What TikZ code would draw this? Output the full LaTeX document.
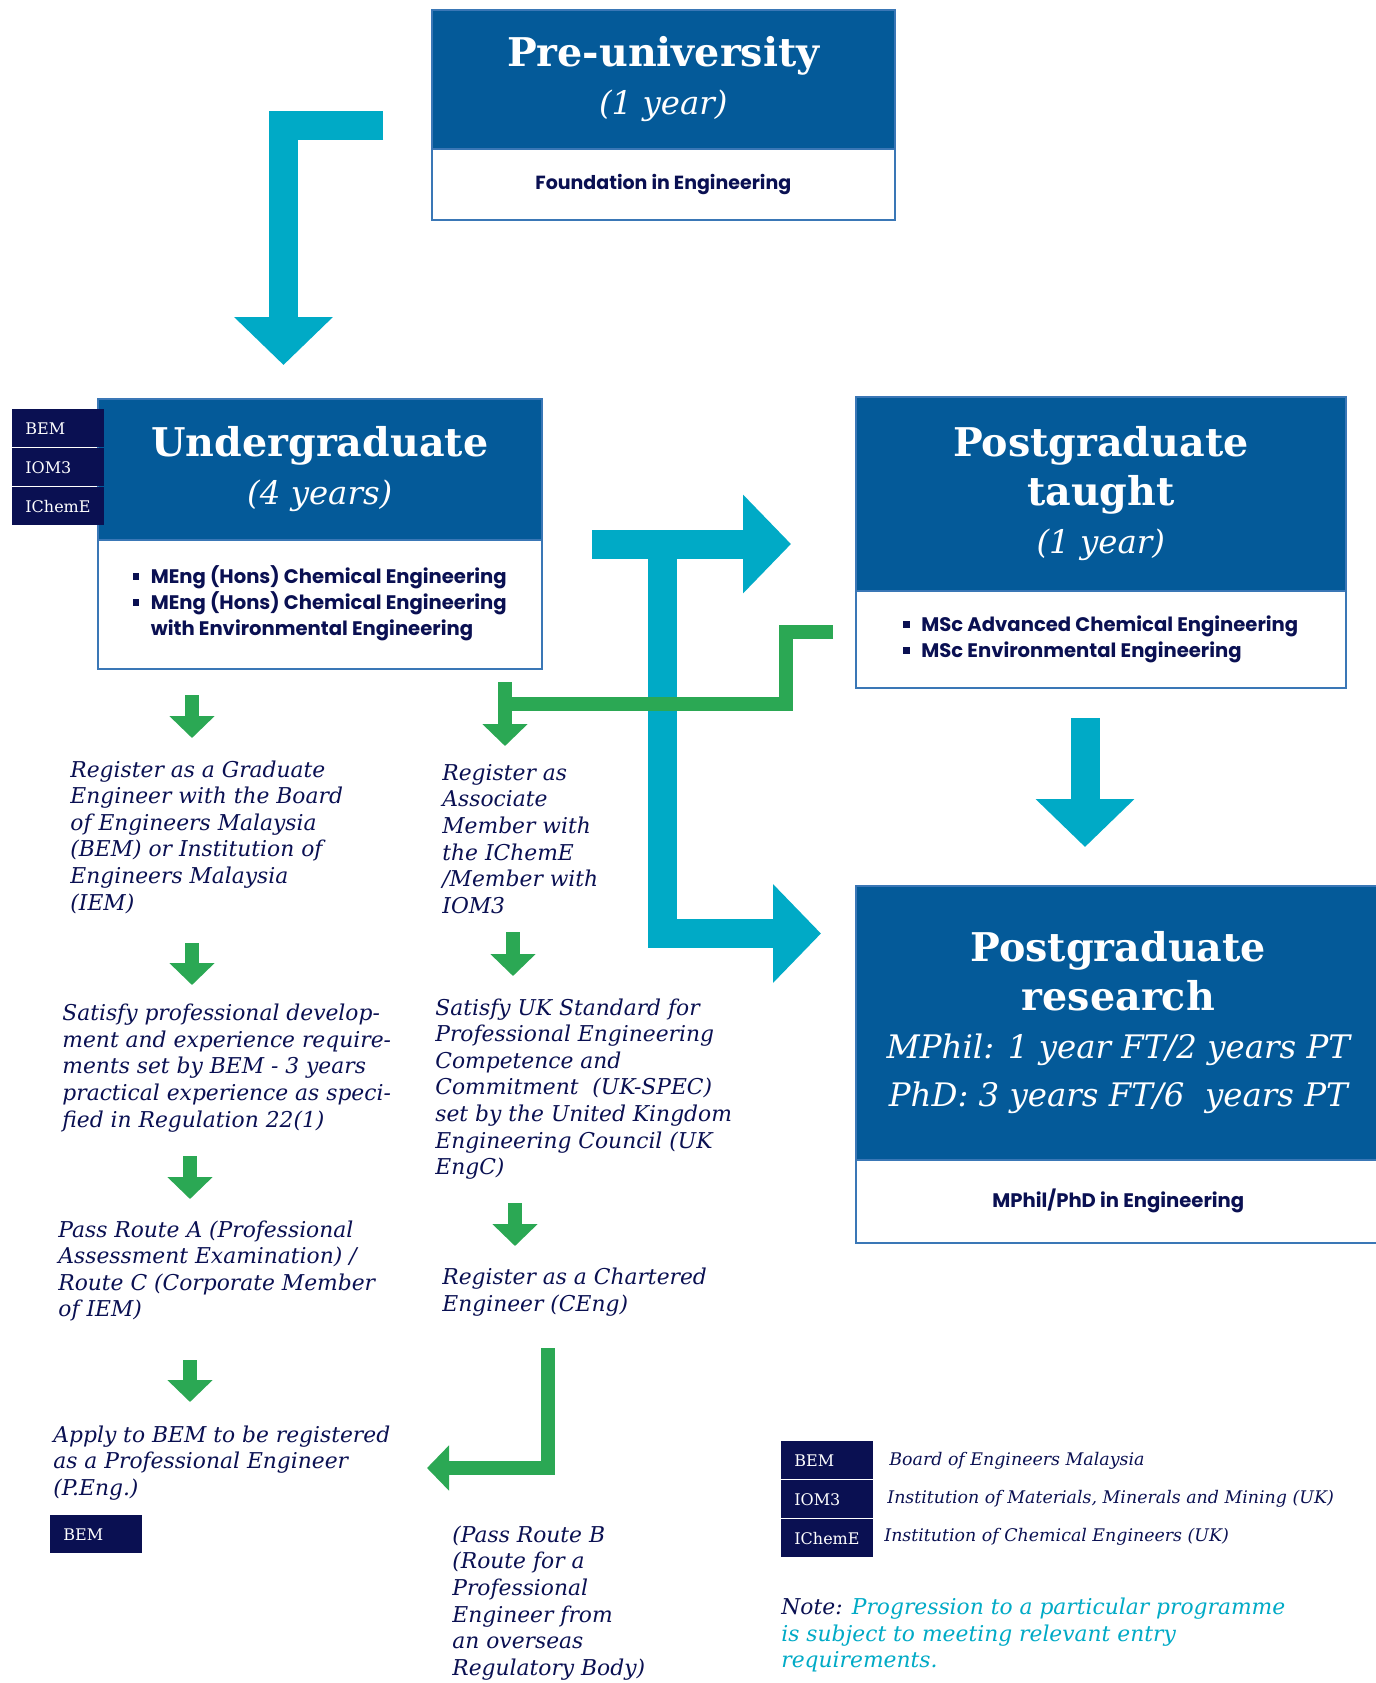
\documentclass[tikz,border=0pt]{standalone}
\usepackage{fontspec}
\setmainfont{DejaVu Serif}
\setsansfont{Poppins}
\usetikzlibrary{arrows.meta}

\definecolor{hdrblue}{HTML}{045A99}
\definecolor{navy}{HTML}{0A1052}
\definecolor{arrcyan}{HTML}{00AAC6}
\definecolor{arrgreen}{HTML}{2BA854}
\definecolor{boxline}{HTML}{3A77B6}

\newcommand{\ttl}[1]{{\bfseries\fontsize{19.8}{25}\selectfont #1}}
\newcommand{\subttl}[1]{{\itshape\fontsize{16.2}{24}\selectfont #1}}
\newcommand{\sqbul}{\raisebox{0.2em}{\rule{3.2pt}{3.2pt}}}

\tikzset{
  hdr/.style={fill=hdrblue, draw=boxline, line width=0.8pt, text=white, anchor=north west, align=center, inner sep=0pt,
    font=\fontsize{16}{24.2}\selectfont},
  body/.style={draw=boxline, line width=0.8pt, fill=white, anchor=north west, align=center, inner sep=0pt,
    text=navy, font=\sffamily\bfseries\fontsize{9.8}{13}\selectfont},
  badge/.style={fill=navy, text=white, anchor=north west, minimum height=19pt, text width=33pt,
    inner xsep=6.5pt, inner ysep=0pt, align=left, font=\fontsize{8}{10}\selectfont},
  steptext/.style={anchor=west, align=left, text=navy, inner sep=0pt, font=\itshape\fontsize{10.9}{13.3}\selectfont},
  keytext/.style={anchor=west, text=navy, inner sep=0pt, font=\itshape\fontsize{8.7}{10}\selectfont},
  cyanarrow/.style={draw=arrcyan, line width=14.5pt, line join=miter, -{Triangle[width=48pt,length=24pt]}},
  greenarrow/.style={draw=arrgreen, line width=7pt, line join=miter, -{Triangle[width=22pt,length=11pt]}},
  greenline/.style={draw=arrgreen, line width=7pt, line join=miter},
}

\begin{document}
\begin{tikzpicture}[x=0.5pt,y=-0.5pt]
\fill[white] (0,0) rectangle (1376,1683);
\useasboundingbox (0,0) rectangle (1376,1683);

% programme boxes
\node[body, minimum width=231.5pt, minimum height=35.5pt, font=\sffamily\bfseries\fontsize{9.5}{13}\selectfont] (prebody) at (431,148) {Foundation in Engineering};
\node[hdr, minimum width=231.5pt, minimum height=69.5pt] (pre) at (431,9) {\ttl{Pre-university}\\\subttl{(1 year)}};

\node[body, minimum width=222pt, minimum height=64.5pt] (ugbody) at (97,539) {%
  \begin{tabular}{@{}l@{\hspace{5.8pt}}l@{}}
  \sqbul & MEng (Hons) Chemical Engineering\\
  \sqbul & MEng (Hons) Chemical Engineering\\
         & with Environmental Engineering
  \end{tabular}};
\node[hdr, minimum width=222pt, minimum height=70.5pt] (ug) at (97,398) {\ttl{Undergraduate}\\\subttl{(4 years)}};
\node[badge] (ugbem) at (12,409) {BEM};
\node[badge] (ugiom) at (12,448) {IOM3};
\node[badge] (ugichem) at (12,487) {IChemE};

\node[body, minimum width=245pt, minimum height=48.5pt] (ptbody) at (855,590) {%
  \begin{tabular}{@{}l@{\hspace{5.8pt}}l@{}}
  \sqbul & MSc Advanced Chemical Engineering\\
  \sqbul & MSc Environmental Engineering
  \end{tabular}};
\node[hdr, minimum width=245pt, minimum height=97pt] (pt) at (855,396) {\ttl{Postgraduate}\\\ttl{taught}\\\subttl{(1 year)}};

\node[body, minimum width=262.5pt, minimum height=41.5pt] (prbody) at (855,1159) {MPhil/PhD in Engineering};
\node[hdr, minimum width=262.5pt, minimum height=137pt] (pr) at (855,885) {\ttl{Postgraduate}\\\ttl{research}\\
  \subttl{MPhil: 1 year FT/2 years PT}\\\subttl{PhD: 3 years FT/6\ \ years PT}};

% professional registration steps
\node[steptext] (g1) at (70,837) {Register as a Graduate\\Engineer with the Board\\of Engineers Malaysia\\(BEM) or Institution of\\Engineers Malaysia\\(IEM)};
\node[steptext] (g2) at (62,1068) {Satisfy professional develop-\\ment and experience require-\\ments set by BEM - 3 years\\practical experience as speci-\\fied in Regulation 22(1)};
\node[steptext] (g3) at (58,1271) {Pass Route A (Professional\\Assessment Examination) /\\Route C (Corporate Member\\of IEM)};
\node[steptext] (g4) at (53,1463) {Apply to BEM to be registered\\as a Professional Engineer\\(P.Eng.)};
\node[badge] (g4bem) at (50,1515) {BEM};

\node[steptext] (c1) at (442,839) {Register as\\Associate\\Member with\\the IChemE\\/Member with\\IOM3};
\node[steptext] (c2) at (435,1089) {Satisfy UK Standard for\\Professional Engineering\\Competence and\\Commitment\ \ (UK-SPEC)\\set by the United Kingdom\\Engineering Council (UK\\EngC)};
\node[steptext] (c3) at (442,1292) {Register as a Chartered\\Engineer (CEng)};
\node[steptext] (c4) at (452,1603) {(Pass Route B\\(Route for a\\Professional\\Engineer from\\an overseas\\Regulatory Body)};

% key
\node[badge] (kbem) at (781,1441) {BEM};
\node[badge] (kiom) at (781,1480) {IOM3};
\node[badge] (kichem) at (781,1519) {IChemE};
\node[keytext] (kbemtxt) at (889,1461) {Board of Engineers Malaysia};
\node[keytext] (kiomtxt) at (887,1499) {Institution of Materials, Minerals and Mining (UK)};
\node[keytext] (kichemtxt) at (884,1537) {Institution of Chemical Engineers (UK)};
\node[steptext] (note) at (781,1635) {Note: \textcolor{arrcyan}{Progression to a particular programme}\\
  \textcolor{arrcyan}{is subject to meeting relevant entry}\\\textcolor{arrcyan}{requirements.}};

% arrow end points
\coordinate (preout) at (383,125.5);
\coordinate (prebend) at (283.5,125.5);
\coordinate (ugin) at (283.5,365);
\coordinate (tstart) at (592,544);
\coordinate (ptin) at (791,544);
\coordinate (tstem) at (662.5,544);
\coordinate (tbend) at (662.5,933.5);
\coordinate (prin) at (821,933.5);
\coordinate (ptout) at (1085,718);
\coordinate (prtop) at (1085,847);

\coordinate (mscout) at (833,632);
\coordinate (mscb1) at (786,632);
\coordinate (mscb2) at (786,704);
\coordinate (mscjoin) at (505,704);
\coordinate (ugout) at (505,682);
\coordinate (c1in) at (505,746);
\coordinate (c4out) at (548,1348);
\coordinate (c4bend) at (548,1468);
\coordinate (g4in) at (427,1468);

% cyan progression arrows
\draw[cyanarrow] (preout) -- (prebend) -- (ugin);
\draw[cyanarrow] (tstart) -- (ptin);
\draw[cyanarrow] (tstem) -- (tbend) -- (prin);
\draw[cyanarrow] (ptout) -- (prtop);

% green registration arrows
\draw[greenline] (mscout) -- (mscb1) -- (mscb2) -- (mscjoin);
\draw[greenarrow] (ugout) -- (c1in);
\draw[greenarrow] (192,695) -- (192,738);
\draw[greenarrow] (192,943) -- (192,985);
\draw[greenarrow] (190,1156) -- (190,1199);
\draw[greenarrow] (190,1360) -- (190,1402);
\draw[greenarrow] (513,932) -- (513,976);
\draw[greenarrow] (515,1203) -- (515,1246);
\draw[greenarrow] (c4out) -- (c4bend) -- (g4in);
\end{tikzpicture}
\end{document}
